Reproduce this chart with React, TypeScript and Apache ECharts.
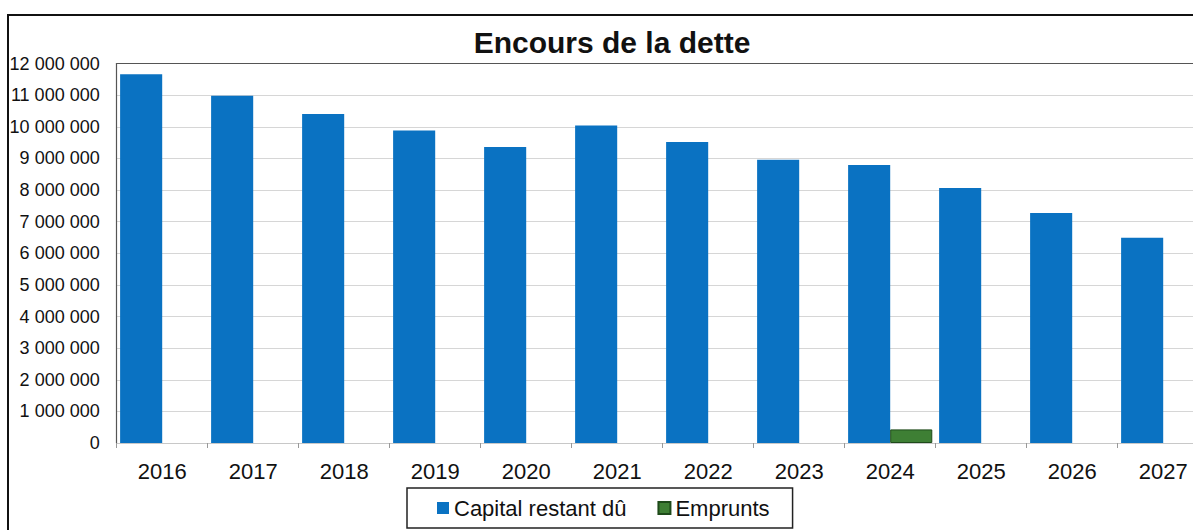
import React, { useEffect, useRef } from "react";
import * as echarts from "echarts";

const years = ["2016", "2017", "2018", "2019", "2020", "2021", "2022", "2023", "2024", "2025", "2026", "2027"];
const capitalRestantDu = [11660000, 10980000, 10400000, 9880000, 9360000, 10040000, 9520000, 8960000, 8790000, 8060000, 7270000, 6490000];
const emprunts = [null, null, null, null, null, null, null, null, 430000, null, null, null];
const yTicks = { min: 0, max: 12000000, interval: 1000000 };

const FONT = "'Liberation Sans', Arial, sans-serif";

const fmt = (v: number) => String(v).replace(/\B(?=(\d{3})+(?!\d))/g, " ");

export default function App() {
  const ref = useRef<HTMLDivElement>(null);
  useEffect(() => {
    document.body.style.margin = "0";
    document.body.style.overflow = "hidden";
    const chart = echarts.init(ref.current!, null, { renderer: "svg" });
    chart.setOption({
      animation: false,
      backgroundColor: "#ffffff",
      textStyle: { fontFamily: FONT },
      title: {
        text: "Encours de la dette",
        left: 607,
        textAlign: "center",
        top: 22,
        textStyle: { fontFamily: FONT, fontSize: 30, fontWeight: "bold", color: "#111" },
      },
      legend: {
        data: ["Capital restant dû", "Emprunts"],
        left: 407,
        top: 488,
        orient: "horizontal",
        padding: [9, 23, 9, 30],
        itemWidth: 12,
        itemHeight: 12,
        itemGap: 31,
        borderColor: "#222",
        borderWidth: 1.5,
        icon: "rect",
        textStyle: { fontFamily: FONT, fontSize: 22, color: "#111" },
      },
      graphic: [
        {
          type: "rect",
          shape: { x: 8, y: 15, width: 1240, height: 540 },
          style: { fill: "none", stroke: "#111", lineWidth: 2 },
          silent: true,
        },
      ],
      grid: { left: 116.7, top: 63.5, width: 1092, height: 379.5, containLabel: false },
      xAxis: [
        {
          type: "category",
          data: years,
          axisLine: { show: true, lineStyle: { color: "#c8c8c8", width: 1 } },
          axisTick: { show: true, alignWithLabel: false, length: 5, lineStyle: { color: "#999" } },
          axisLabel: { fontFamily: FONT, fontSize: 22, color: "#111", margin: 17 },
          splitLine: { show: false },
        },
        {
          type: "category",
          data: years,
          position: "top",
          axisLine: { show: true, lineStyle: { color: "#555", width: 1.2 } },
          axisTick: { show: false },
          axisLabel: { show: false },
        },
      ],
      yAxis: {
        type: "value",
        min: yTicks.min,
        max: yTicks.max,
        interval: yTicks.interval,
        axisLine: { show: true, lineStyle: { color: "#555", width: 1.2 } },
        axisTick: { show: false },
        axisLabel: { fontFamily: FONT, fontSize: 18, color: "#111", margin: 17, formatter: (v: number) => fmt(v) },
        splitLine: { show: true, lineStyle: { color: "#d6d6d6", width: 1 } },
      },
      series: [
        {
          name: "Capital restant dû",
          type: "bar",
          data: capitalRestantDu,
          barGap: "0%",
          barCategoryGap: "7.5%",
          itemStyle: { color: "#0a72c2" },
        },
        {
          name: "Emprunts",
          type: "bar",
          data: emprunts,
          itemStyle: { color: "#3e7f34", borderColor: "#1e4a1a", borderWidth: 1 },
        },
      ],
    });
    return () => chart.dispose();
  }, []);
  return (
    <div style={{ width: 1193, height: 530, overflow: "hidden", position: "relative" }}>
      <div ref={ref} style={{ width: 1240, height: 530 }} />
    </div>
  );
}
